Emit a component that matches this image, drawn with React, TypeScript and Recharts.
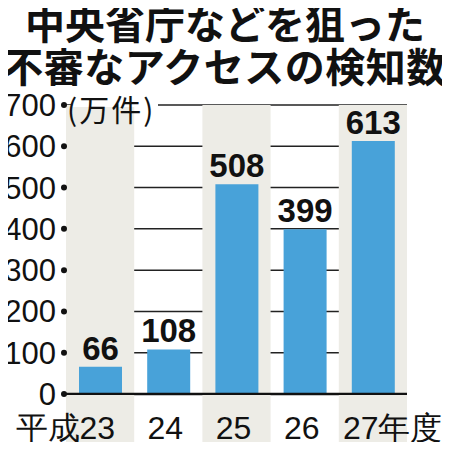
import React from 'react'
import { Bar, BarChart, CartesianGrid, LabelList, ReferenceArea, ReferenceLine, XAxis, YAxis } from 'recharts'

// 年度ごとの検知数（万件）
const years = ['平成23', '24', '25', '26', '27年度']
const counts = [66, 108, 508, 399, 613]
const yTicks = [0, 100, 200, 300, 400, 500, 600, 700]
const shadedYears = ['平成23', '25', '27年度']

const data = years.map((year, i) => ({ year, count: counts[i] }))

const BAR_COLOR = '#48a2d9'
const BAND_COLOR = '#edece6'
const NUM_FONT = '"Liberation Sans", Arial, sans-serif'
const CJK_FONT = '"Noto Sans CJK JP", "Noto Sans", sans-serif'

const YTick = (props: any) => {
  const { x, y, payload } = props
  return (
    <g>
      <text x={x - 2} y={y} dy={11} textAnchor='end' fontSize={31} fontFamily={NUM_FONT} fill='#111'>
        {payload.value}
      </text>
      <circle cx={x + 6} cy={y} r={3} fill='#111' />
    </g>
  )
}

// x軸ラベル：網掛けの帯を軸の下まで伸ばす
const XTick = (props: any) => {
  const { x, y, payload, index } = props
  const half = payload.offset || 34
  let anchor: 'start' | 'middle' | 'end' = 'middle'
  let tx = x - 3
  if (index === 0) {
    anchor = 'end'
    tx = x + 15
  } else if (index === years.length - 1) {
    anchor = 'start'
    tx = x - 30
  }
  return (
    <g>
      {shadedYears.includes(payload.value) && (
        <rect x={x - half} y={y - 7} width={half * 2} height={54} fill={BAND_COLOR} />
      )}
      <text x={tx} y={y} dy={37} textAnchor={anchor} fontSize={32} fontFamily={NUM_FONT} fill='#111'>
        {payload.value}
      </text>
    </g>
  )
}

const ValueLabel = (props: any) => {
  const { x, y, width, value, index } = props
  const bg = shadedYears.includes(years[index]) ? BAND_COLOR : '#ffffff'
  return (
    <text
      x={x + width / 2}
      y={y - 7}
      textAnchor='middle'
      fontSize={33}
      fontWeight={700}
      fontFamily={NUM_FONT}
      fill='#111'
      stroke={bg}
      strokeWidth={7}
      paintOrder='stroke'
    >
      {value}
    </text>
  )
}

export default function App() {
  return (
    <div style={{ position: 'relative', margin: -8, width: 450, height: 450 }}>
      <BarChart width={450} height={450} data={data} margin={{ top: 105, right: 43, left: 0, bottom: 0 }}>
        {shadedYears.map((y) => (
          <ReferenceArea key={y} x1={y} x2={y} y1={0} y2={700} fill={BAND_COLOR} fillOpacity={1} stroke='none' />
        ))}
        <CartesianGrid vertical={false} stroke='#222' strokeWidth={1.5} strokeOpacity={1} />
        <XAxis dataKey='year' height={56} axisLine={false} tickLine={false} interval={0} tick={<XTick />} />
        <YAxis
          width={66}
          domain={[0, 700]}
          ticks={yTicks}
          interval={0}
          axisLine={false}
          tickLine={false}
          tick={<YTick />}
        />
        <Bar dataKey='count' fill={BAR_COLOR} barSize={43} isAnimationActive={false}>
          <LabelList dataKey='count' content={<ValueLabel />} />
        </Bar>
        <ReferenceLine y={0} stroke='#111' strokeWidth={2.5} />
      </BarChart>
      <div
        style={{
          position: 'absolute',
          left: 0,
          top: 2,
          width: 450,
          textAlign: 'center',
          fontFamily: CJK_FONT,
          fontWeight: 700,
          fontSize: 40,
          lineHeight: '40px',
          color: '#111',
          whiteSpace: 'nowrap',
        }}
      >
        中央省庁などを狙った
      </div>
      <div
        style={{
          position: 'absolute',
          left: 0,
          top: 45,
          width: 450,
          textAlign: 'center',
          fontFamily: CJK_FONT,
          fontWeight: 700,
          fontSize: 40,
          lineHeight: '40px',
          letterSpacing: 0.5,
          color: '#111',
          whiteSpace: 'nowrap',
        }}
      >
        不審なアクセスの検知数
      </div>
      <div style={{ position: 'absolute', left: 71, top: 103.5, width: 87, height: 3, background: '#fff' }} />
      <div
        style={{
          position: 'absolute',
          left: 67,
          top: 93,
          fontFamily: CJK_FONT,
          fontSize: 30,
          lineHeight: '30px',
          letterSpacing: 2,
          color: '#111',
          whiteSpace: 'nowrap',
        }}
      >
        (万件)
      </div>
    </div>
  )
}
